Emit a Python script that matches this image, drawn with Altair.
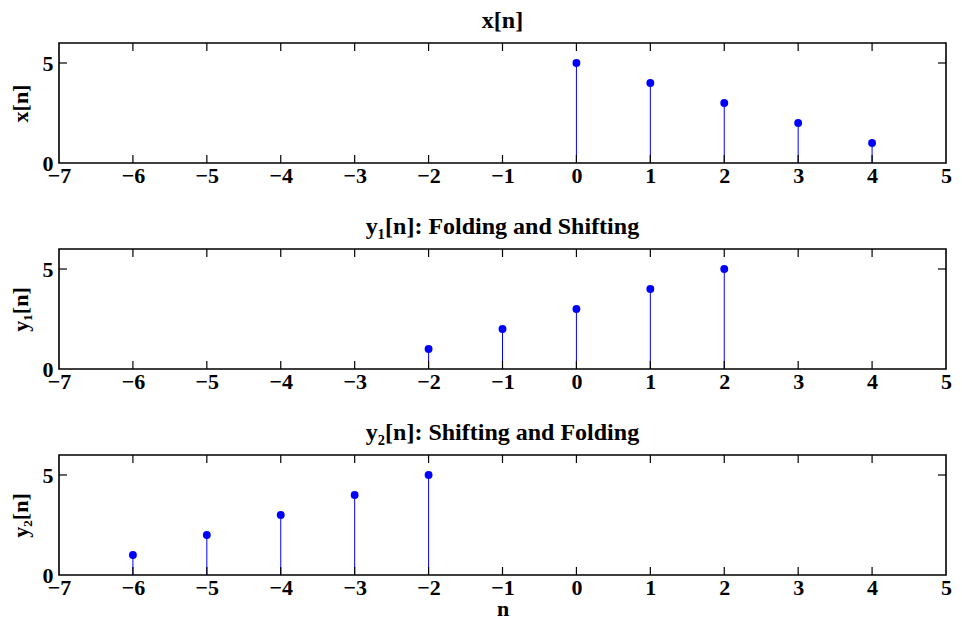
import altair as alt
import pandas as pd

n_x = [0, 1, 2, 3, 4]
v_x = [5, 4, 3, 2, 1]
n_y1 = [-2, -1, 0, 1, 2]
v_y1 = [1, 2, 3, 4, 5]
n_y2 = [-6, -5, -4, -3, -2]
v_y2 = [1, 2, 3, 4, 5]

x_ticks = [-7, -6, -5, -4, -3, -2, -1, 0, 1, 2, 3, 4, 5]
inner_x_ticks = [-6, -5, -4, -3, -2, -1, 0, 1, 2, 3, 4]
y_ticks = [0, 5]
inner_y_ticks = [5]

W, H = 887, 120
FONT = "Liberation Serif"
BLUE = "#0000ff"
TL = 8

xscale = alt.Scale(domain=[-7, 5], nice=False, zero=False)
yscale = alt.Scale(domain=[0, 6], nice=False)


def panel(ns, vs, title, ytitle, show_xtitle=False):
    df = pd.DataFrame({"n": ns, "v": vs})
    xaxis = alt.Axis(values=x_ticks, domain=False, ticks=False, grid=False,
                     labelFlush=False, labelOverlap=False, labelPadding=2,
                     labelFont=FONT, labelFontSize=22, labelFontWeight="bold",
                     labelColor="black", format="d",
                     title="n" if show_xtitle else None,
                     titleFont=FONT, titleFontSize=22, titleFontWeight="bold",
                     titleColor="black", titlePadding=0)
    yaxis = alt.Axis(values=y_ticks, domain=False, ticks=False, grid=False,
                     labelFont=FONT, labelFontSize=22, labelFontWeight="bold",
                     labelColor="black", labelPadding=6, labelFlush=False,
                     title=ytitle, titleFont=FONT, titleFontSize=22,
                     titleFontWeight="bold", titleColor="black", titlePadding=10)
    base = alt.Chart(df)
    stems = base.mark_rule(color=BLUE, strokeWidth=1).encode(
        x=alt.X("n:Q", scale=xscale, axis=xaxis),
        y=alt.Y("v:Q", scale=yscale, axis=yaxis),
        y2=alt.datum(0),
    )
    dots = base.mark_circle(color=BLUE, size=62, opacity=1).encode(
        x=alt.X("n:Q", scale=xscale),
        y=alt.Y("v:Q", scale=yscale),
    )
    tdf = pd.DataFrame({"t": inner_x_ticks})
    top_t = alt.Chart(tdf).mark_rule(color="black", strokeWidth=1.2).encode(
        x=alt.X("t:Q", scale=xscale), y=alt.value(0), y2=alt.value(TL))
    bot_t = alt.Chart(tdf).mark_rule(color="black", strokeWidth=1.2).encode(
        x=alt.X("t:Q", scale=xscale), y=alt.value(H - TL), y2=alt.value(H))
    ydf = pd.DataFrame({"t": inner_y_ticks})
    left_t = alt.Chart(ydf).mark_rule(color="black", strokeWidth=1.2).encode(
        y=alt.Y("t:Q", scale=yscale), x=alt.value(0), x2=alt.value(TL))
    right_t = alt.Chart(ydf).mark_rule(color="black", strokeWidth=1.2).encode(
        y=alt.Y("t:Q", scale=yscale), x=alt.value(W - TL), x2=alt.value(W))
    return alt.layer(stems, dots, top_t, bot_t, left_t, right_t).properties(
        width=W, height=H,
        title=alt.TitleParams(title, font=FONT, fontSize=24, fontWeight="bold",
                              color="black", offset=9, anchor="middle"),
    )


p1 = panel(n_x, v_x, "x[n]", "x[n]")
p2 = panel(n_y1, v_y1, "y\u2081[n]: Folding and Shifting", "y\u2081[n]")
p3 = panel(n_y2, v_y2, "y\u2082[n]: Shifting and Folding", "y\u2082[n]", show_xtitle=True)

chart = alt.vconcat(p1, p2, p3, spacing=27).configure(
    padding=0,
    background="white",
    view=alt.ViewConfig(stroke="black", strokeWidth=1.6),
)

chart.save("out.html", embed_options={"renderer": "svg", "actions": False})
